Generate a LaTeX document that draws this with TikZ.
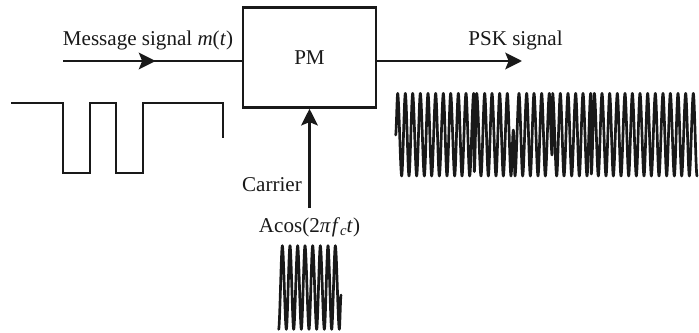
\documentclass[tikz,border=0pt]{standalone}
\usepackage{fontspec}
\setmainfont{Liberation Serif}
\usetikzlibrary{arrows.meta}
\tikzset{
  wire/.style={line width=1.9pt,draw=black!90},
  arrowed/.style={wire,-{Stealth[length=12.5pt,width=12.5pt,inset=2.5pt]}},
  label/.style={inner sep=0pt,anchor=base,font=\fontsize{15.8}{18}\selectfont,text=black!90},
  blockbox/.style={draw=black!90,line width=1.9pt,minimum width=99.75pt,minimum height=75pt,inner sep=0pt,text=black!90,font=\fontsize{15.8}{18}\selectfont},
  signal/.style={line width=1.7pt,draw=black!90,line join=miter},
  sine/.style={line width=2pt,draw=black!90,line join=round,line cap=round}
}
\begin{document}
\begin{tikzpicture}[x=0.75pt,y=-0.75pt]
\useasboundingbox (0,0) rectangle (699,332);
\node[blockbox] (pm) at (309.5,57.5) {PM};
\node[label] (msg) at (148,45.5) {Message signal \textit{m}(\textit{t})};
\node[label] (psk) at (515.5,45) {PSK signal};
\node[label] (car) at (272,191.5) {Carrier};
\node[label] (acos) at (309.5,232) {Acos(2\textit{π}\kern0.8pt\textit{f}\raisebox{-2.5pt}{\fontsize{11}{12}\selectfont\textit{c}}\textit{t})};
\coordinate (msgstart) at (63,61);
\coordinate (msgtip) at (155.5,61);
\coordinate (outtip) at (522,61);
\coordinate (carstart) at (309.5,208);
\draw[wire] (msgstart) -- (msgstart -| pm.west);
\draw[arrowed] (msgstart) -- (msgtip);
\draw[arrowed] (msgtip -| pm.east) -- (outtip);
\draw[arrowed] (carstart) -- (carstart |- pm.south);
\draw[signal] (11,103) -- (63,103) -- (63,173) -- (90,173) -- (90,103) -- (116,103) -- (116,173) -- (143,173) -- (143,103) -- (223,103) -- (223,137.5);
\begin{scope}[shift={(380,70)},x=0.25pt,y=-0.25pt]
\draw[sine] (47,195)
 \foreach \x/\y [remember=\x as \px (initially 47),remember=\y as \py (initially 195)] in {
 53/70,65/318,76/70,87/318,98/70,110/318,121/70,133/318,144/70,155/318,167/70,178/318,190/70,201/318,212/70,224/318,235/70,246/318,258/70,269/318,281/70,283/305,290/70,303/318,314/70,325/318,336/70,348/318,359/70,370/318,382/70,393/318,400/180,405/318,417/70,428/318,440/70,451/318,462/70,474/318,485/70,496/318,508/70,516/255,518/70,530/318,541/70,552/318,564/70,575/318,587/70,598/318,609/70,621/318,632/70,634/312,643/70,655/318,666/70,678/318,689/70,700/318,712/70,723/318,735/70,746/318,757/70,769/318,780/70,792/318,803/70,814/318,826/70,837/318,849/70,860/318,871/70,883/318,894/70,905/318,917/70,928/318,940/70,951/318}
 { .. controls ({\px+0.3*(\x-\px)},\py) and ({\x-0.3*(\x-\px)},\y) .. (\x,\y) };
\end{scope}
\begin{scope}[shift={(230,200)},x=0.25pt,y=-0.25pt]
\draw[sine] (146,388)
 \foreach \x/\y [remember=\x as \px (initially 146),remember=\y as \py (initially 388)] in {
 157/137,169/388,180/137,191/388,203/137,214/388,225/137,237/388,248/137,260/388,271/137,283/388,294/137,305/388,316/137,328/388,333/285}
 { .. controls ({\px+0.3*(\x-\px)},\py) and ({\x-0.3*(\x-\px)},\y) .. (\x,\y) };
\end{scope}
\end{tikzpicture}
\end{document}
